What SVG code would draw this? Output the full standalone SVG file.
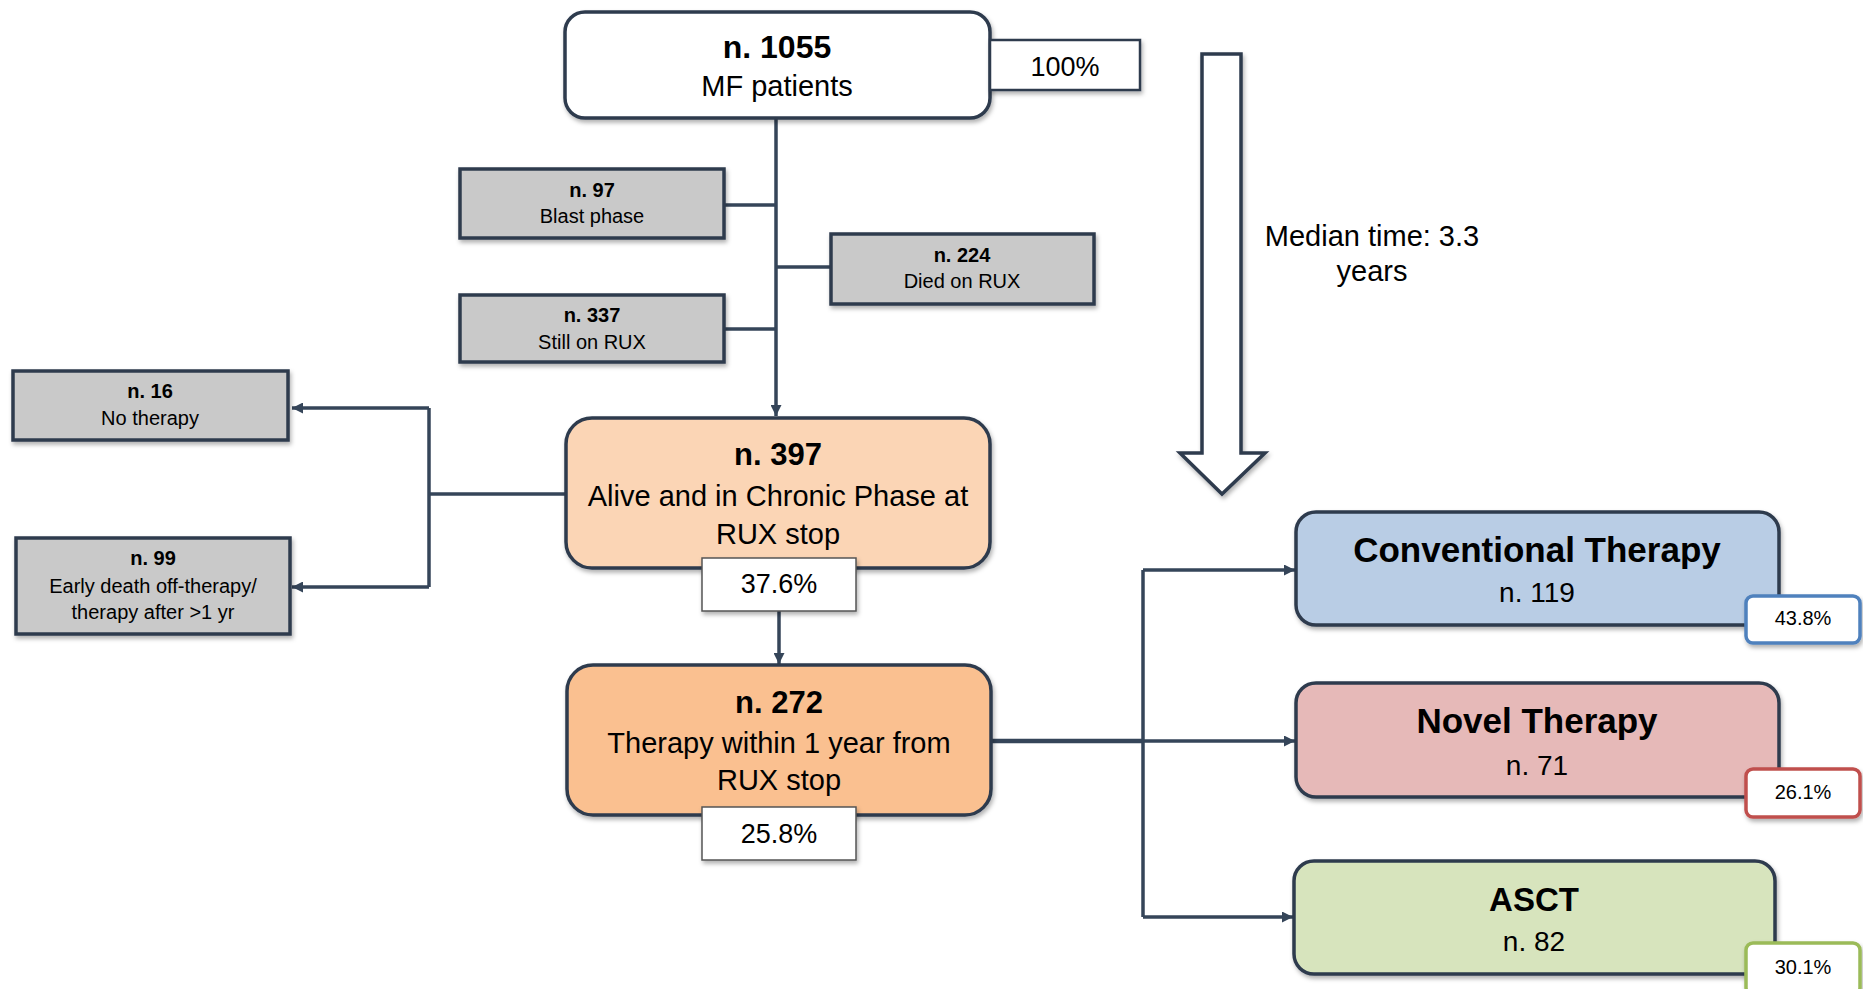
<svg xmlns="http://www.w3.org/2000/svg" width="1863" height="989" viewBox="0 0 1863 989">
<defs>
<filter id="sh" x="-10%" y="-10%" width="120%" height="130%">
<feDropShadow dx="1.5" dy="3" stdDeviation="2" flood-color="#000" flood-opacity="0.3"/>
</filter>
<marker id="ah" viewBox="0 0 10 10" refX="10" refY="5" markerWidth="11" markerHeight="11" markerUnits="userSpaceOnUse" orient="auto">
<path d="M0,0 L10,5 L0,10 z" fill="#354559"/>
</marker>
</defs>
<style>
text{font-family:"Liberation Sans",Arial,sans-serif;fill:#000;text-anchor:middle}
.b{font-weight:bold}
.box{stroke:#2E3B4E;stroke-width:3.5;filter:url(#sh)}
.gray{fill:#C9C9C9;stroke:#2E3B4E;stroke-width:3.5;filter:url(#sh)}
.pct{fill:#fff;stroke:#555;stroke-width:1.5;filter:url(#sh)}
.cp{fill:#fff;stroke-width:3.5;filter:url(#sh)}
.ln{fill:none;stroke:#354559;stroke-width:3.5}
</style>

<g id="connectors">
<line class="ln" x1="776" y1="118" x2="776" y2="416" marker-end="url(#ah)"/>
<line class="ln" x1="724" y1="205" x2="776" y2="205"/>
<line class="ln" x1="776" y1="267" x2="831" y2="267"/>
<line class="ln" x1="724" y1="329" x2="776" y2="329"/>
<line class="ln" x1="779" y1="611" x2="779" y2="664" marker-end="url(#ah)"/>
<polyline class="ln" points="565,494 429,494"/>
<polyline class="ln" points="429,408 429,587"/>
<line class="ln" x1="429" y1="408" x2="292" y2="408" marker-end="url(#ah)"/>
<line class="ln" x1="429" y1="587" x2="292" y2="587" marker-end="url(#ah)"/>
<line class="ln" x1="992" y1="741" x2="1143" y2="741" style="stroke-width:4.5"/>
<line class="ln" x1="1143" y1="570" x2="1143" y2="917"/>
<line class="ln" x1="1143" y1="570" x2="1295" y2="570" marker-end="url(#ah)"/>
<line class="ln" x1="1143" y1="741" x2="1295" y2="741" marker-end="url(#ah)"/>
<line class="ln" x1="1143" y1="917" x2="1293" y2="917" marker-end="url(#ah)"/>
</g>

<g id="time-arrow">
<polygon points="1202,54 1241,54 1241,453 1265,453 1222,494 1180,453 1202,453" fill="#fff" stroke="#2E3B4E" stroke-width="3.5" filter="url(#sh)"/>
<text x="1372" y="246" font-size="29">Median time: 3.3</text>
<text x="1372" y="281" font-size="29">years</text>
</g>

<g id="n1055">
<rect class="box" x="565" y="12" width="425" height="106" rx="20" fill="#fff"/>
<text class="b" x="777" y="58" font-size="32">n. 1055</text>
<text x="777" y="96" font-size="29">MF patients</text>
</g>
<g id="p100">
<rect x="990" y="40" width="150" height="50" fill="#fff" stroke="#2E3B4E" stroke-width="2.5" filter="url(#sh)"/>
<text x="1065" y="76" font-size="27">100%</text>
</g>

<g id="n97">
<rect class="gray" x="460" y="169" width="264" height="69"/>
<text class="b" x="592" y="197" font-size="20">n. 97</text>
<text x="592" y="223" font-size="20">Blast phase</text>
</g>
<g id="n224">
<rect class="gray" x="831" y="234" width="263" height="70"/>
<text class="b" x="962" y="262" font-size="20">n. 224</text>
<text x="962" y="288" font-size="20">Died on RUX</text>
</g>
<g id="n337">
<rect class="gray" x="460" y="295" width="264" height="67"/>
<text class="b" x="592" y="322" font-size="20">n. 337</text>
<text x="592" y="349" font-size="20">Still on RUX</text>
</g>

<g id="n16">
<rect class="gray" x="13" y="371" width="275" height="69"/>
<text class="b" x="150" y="398" font-size="20">n. 16</text>
<text x="150" y="425" font-size="20">No therapy</text>
</g>
<g id="n99">
<rect class="gray" x="16" y="538" width="274" height="96"/>
<text class="b" x="153" y="565" font-size="20">n. 99</text>
<text x="153" y="593" font-size="20">Early death off-therapy/</text>
<text x="153" y="619" font-size="20">therapy after &gt;1 yr</text>
</g>

<g id="n397">
<rect class="box" x="566" y="418" width="424" height="150" rx="26" fill="#FBD5B5"/>
<text class="b" x="778" y="465" font-size="31">n. 397</text>
<text x="778" y="506" font-size="29">Alive and in Chronic Phase at</text>
<text x="778" y="544" font-size="29">RUX stop</text>
</g>
<g id="p376">
<rect class="pct" x="702" y="558" width="154" height="53"/>
<text x="779" y="593" font-size="27">37.6%</text>
</g>

<g id="n272">
<rect class="box" x="567" y="665" width="424" height="150" rx="26" fill="#FAC090"/>
<text class="b" x="779" y="713" font-size="31">n. 272</text>
<text x="779" y="753" font-size="29">Therapy within 1 year from</text>
<text x="779" y="790" font-size="29">RUX stop</text>
</g>
<g id="p258">
<rect class="pct" x="702" y="807" width="154" height="53"/>
<text x="779" y="843" font-size="27">25.8%</text>
</g>

<g id="conventional">
<rect class="box" x="1296" y="512" width="483" height="113" rx="20" fill="#B9CDE5"/>
<text class="b" x="1537" y="562" font-size="35">Conventional Therapy</text>
<text x="1537" y="602" font-size="28">n. 119</text>
</g>
<g id="p438">
<rect class="cp" x="1746" y="596" width="114" height="47" rx="7" stroke="#4F81BD"/>
<text x="1803" y="625" font-size="20">43.8%</text>
</g>

<g id="novel">
<rect class="box" x="1296" y="683" width="483" height="114" rx="20" fill="#E6B9B8"/>
<text class="b" x="1537" y="733" font-size="35">Novel Therapy</text>
<text x="1537" y="775" font-size="28">n. 71</text>
</g>
<g id="p261">
<rect class="cp" x="1746" y="769" width="114" height="48" rx="7" stroke="#C0504D"/>
<text x="1803" y="799" font-size="20">26.1%</text>
</g>

<g id="asct">
<rect class="box" x="1294" y="861" width="481" height="113" rx="20" fill="#D7E4BD"/>
<text class="b" x="1534" y="911" font-size="33">ASCT</text>
<text x="1534" y="951" font-size="28">n. 82</text>
</g>
<g id="p301">
<rect class="cp" x="1746" y="943" width="114" height="52" rx="7" stroke="#9BBB59"/>
<text x="1803" y="974" font-size="20">30.1%</text>
</g>
</svg>
